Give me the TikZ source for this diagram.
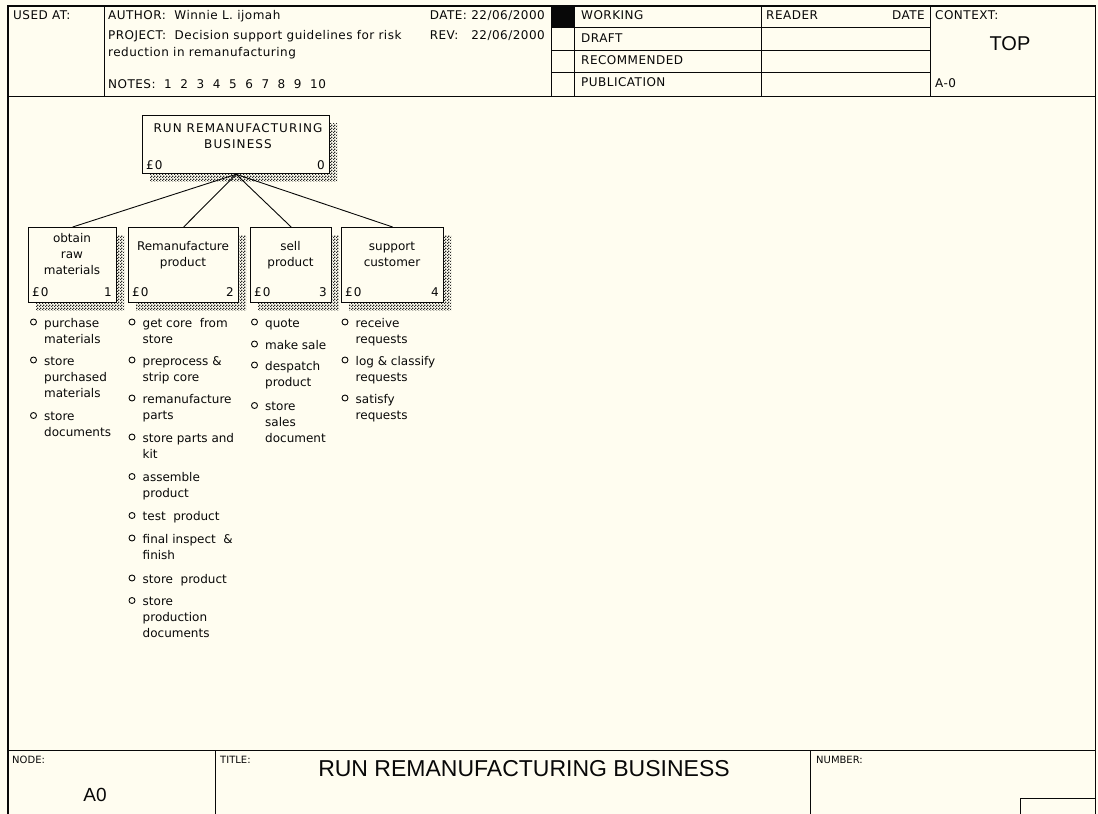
\documentclass[tikz,border=0pt]{standalone}
\usepackage{fontspec}
\setmainfont{DejaVu Sans}
\newfontfamily\plainsans{Liberation Sans}
\newfontfamily\widesans[LetterSpace=4]{DejaVu Sans}
\newfontfamily\widercaps[LetterSpace=9]{DejaVu Sans}
\usetikzlibrary{patterns}
\definecolor{paper}{RGB}{255,253,240}
\definecolor{ink}{RGB}{8,8,8}

% fine checker used for the drop shadows
\pgfdeclarepatternformonly{checker}{\pgfpointorigin}{\pgfpoint{3pt}{3pt}}{\pgfpoint{3pt}{3pt}}{%
  \pgfpathrectangle{\pgfpointorigin}{\pgfpoint{1.5pt}{1.5pt}}%
  \pgfpathrectangle{\pgfpoint{1.5pt}{1.5pt}}{\pgfpoint{1.5pt}{1.5pt}}%
  \pgfusepath{fill}}

\tikzset{
  txt/.style={font=\fontsize{12}{16}\selectfont, inner sep=0pt, text=ink},
  head/.style={font=\widesans\fontsize{12}{16}\selectfont, inner sep=0pt, text=ink},
  small/.style={font=\fontsize{10}{12}\selectfont, inner sep=0pt, text=ink},
  big/.style={font=\plainsans\fontsize{23}{26}\selectfont, inner sep=0pt, text=ink},
  frame/.style={draw=ink, line width=1.4pt},
  rule/.style={draw=ink, line width=1pt},
  actbox/.style={draw=ink, line width=1.3pt, fill=paper, inner sep=0pt},
  hatch/.style={pattern=checker, pattern color=black!85},
  bul/.style={circle, draw=ink, line width=0.9pt, inner sep=0pt, minimum size=6pt},
  link/.style={draw=ink, line width=0.9pt},
}

% activity box: name, left, top, right, bottom
\newcommand\abox[5]{%
  \fill[hatch] (#2+8,#3+8) rectangle (#4+8,#5+8);
  \node[actbox, minimum width=#4-#2, minimum height=#5-#3, anchor=north west] (#1) at (#2,#3) {};
}
% list entry: name, bullet x, centre y of first line, text
\newcommand\litem[4]{%
  \node[bul] (#1b) at (#2,#3-1) {};
  \node[txt, align=left, anchor=north west] (#1) at (#2+10.5,#3-7.2) {\strut #4};
}

\begin{document}
\begin{tikzpicture}[x=1pt, y=-1pt]
  \useasboundingbox (0,0) rectangle (1098,814);
  \fill[paper] (0,0) rectangle (1098,814);

  % sheet frame
  \draw[frame] (8,6) rectangle (1095.5,830);

  % ---- header block ----
  \draw[rule] (8,96) -- (1095.5,96);
  \draw[rule] (104,6) -- (104,96);
  \draw[rule] (551,6) -- (551,96);
  \draw[rule] (574,6) -- (574,96);
  \draw[rule] (761,6) -- (761,96);
  \draw[rule] (930,6) -- (930,96);
  \foreach \yy in {27,50,72.5} \draw[rule] (551,\yy) -- (930,\yy);
  \fill[ink] (551,6) rectangle (574,27);

  \node[head, anchor=base west] (usedat) at (13,19) {USED AT:};
  \node[head, anchor=base west] (author) at (108,19) {AUTHOR:\ \ Winnie L. ijomah};
  \node[head, anchor=base east] (date) at (545,19) {DATE:\ 22/06/2000};
  \node[head, anchor=base west] (project) at (108,39) {PROJECT:\ \ Decision support guidelines for risk};
  \node[head, anchor=base west] (project2) at (108,56) {reduction in remanufacturing};
  \node[head, anchor=base east] (rev) at (545,39) {REV:\ \ \ 22/06/2000};
  \node[head, anchor=base west] (notes) at (108,88) {NOTES:\ \ 1\ \ 2\ \ 3\ \ 4\ \ 5\ \ 6\ \ 7\ \ 8\ \ 9\ \ 10};

  \node[head, anchor=base west] (working) at (581,19) {WORKING};
  \node[head, anchor=base west] (draft) at (581,42) {DRAFT};
  \node[head, anchor=base west] (recommended) at (581,64) {RECOMMENDED};
  \node[head, anchor=base west] (publication) at (581,86) {PUBLICATION};
  \node[head, anchor=base west] (reader) at (766,19) {READER};
  \node[head, anchor=base east] (rdate) at (925,19) {DATE};
  \node[head, anchor=base west] (context) at (935,19) {CONTEXT:};
  \node[big, font=\plainsans\fontsize{20}{24}\selectfont] (top) at (1010,44) {TOP};
  \node[head, anchor=base west] (ctxnode) at (935,87) {A-0};

  % ---- activity tree ----
  \abox{a0}{142}{115}{329}{173}
  \abox{a1}{28}{227}{116}{302}
  \abox{a2}{128}{227}{238}{302}
  \abox{a3}{250}{227}{331}{302}
  \abox{a4}{341}{227}{443}{302}

  \node[txt, font=\widercaps\fontsize{12}{16}\selectfont, align=center, anchor=north] (a0t) at (238,120.8) {\strut RUN REMANUFACTURING\\BUSINESS};
  \node[txt, anchor=base west] (a0c) at (146,169) {£\kern1pt 0};
  \node[txt, anchor=base east] (a0n) at (325,169) {0};

  \node[txt, align=center, anchor=north] (a1t) at (72,230.8) {\strut obtain\\raw\\materials};
  \node[txt, align=center, anchor=north] (a2t) at (183,238.8) {\strut Remanufacture\\product};
  \node[txt, align=center, anchor=north] (a3t) at (290.5,238.8) {\strut sell\\product};
  \node[txt, align=center, anchor=north] (a4t) at (392,238.8) {\strut support\\customer};

  \node[txt, anchor=base west] (a1c) at (32,296) {£\kern1pt 0};
  \node[txt, anchor=base east] (a1n) at (112,296) {1};
  \node[txt, anchor=base west] (a2c) at (132,296) {£\kern1pt 0};
  \node[txt, anchor=base east] (a2n) at (234,296) {2};
  \node[txt, anchor=base west] (a3c) at (254,296) {£\kern1pt 0};
  \node[txt, anchor=base east] (a3n) at (327,296) {3};
  \node[txt, anchor=base west] (a4c) at (345,296) {£\kern1pt 0};
  \node[txt, anchor=base east] (a4n) at (439,296) {4};

  \foreach \k in {a1,a2,a3,a4} \draw[link] (a0.south) -- (\k.north);

  % ---- sub-activity lists ----
  \litem{p1}{33.5}{323}{purchase\\materials}
  \litem{p2}{33.5}{361}{store\\purchased\\materials}
  \litem{p3}{33.5}{416.5}{store\\documents}

  \litem{q1}{132}{323}{get core\ \ from\\store}
  \litem{q2}{132}{361}{preprocess \&\\strip core}
  \litem{q3}{132}{399}{remanufacture\\parts}
  \litem{q4}{132}{438}{store parts and\\kit}
  \litem{q5}{132}{477.5}{assemble\\product}
  \litem{q6}{132}{516.5}{test\ \ product}
  \litem{q7}{132}{539}{final inspect\ \ \&\\finish}
  \litem{q8}{132}{579}{store\ \ product}
  \litem{q9}{132}{601.5}{store\\production\\documents}

  \litem{r1}{254.5}{323}{quote}
  \litem{r2}{254.5}{345}{make sale}
  \litem{r3}{254.5}{366}{despatch\\product}
  \litem{r4}{254.5}{406.5}{store\\sales\\document}

  \litem{s1}{345}{323}{receive\\requests}
  \litem{s2}{345}{361}{log \& classify\\requests}
  \litem{s3}{345}{399}{satisfy\\requests}

  % ---- footer block ----
  \draw[rule] (8,750) -- (1095.5,750);
  \draw[rule] (215,750) -- (215,830);
  \draw[rule] (810,750) -- (810,830);
  \draw[rule] (1020,798) rectangle (1095.5,830);

  \node[small, anchor=base west] (nodelbl) at (12,763) {NODE:};
  \node[small, anchor=base west] (titlelbl) at (220,763) {TITLE:};
  \node[small, anchor=base west] (numlbl) at (816,763) {NUMBER:};
  \node[big, font=\plainsans\fontsize{19}{22}\selectfont] (nodeid) at (95,795) {A0};
  \node[big] (title) at (524,769) {RUN REMANUFACTURING BUSINESS};
\end{tikzpicture}
\end{document}
